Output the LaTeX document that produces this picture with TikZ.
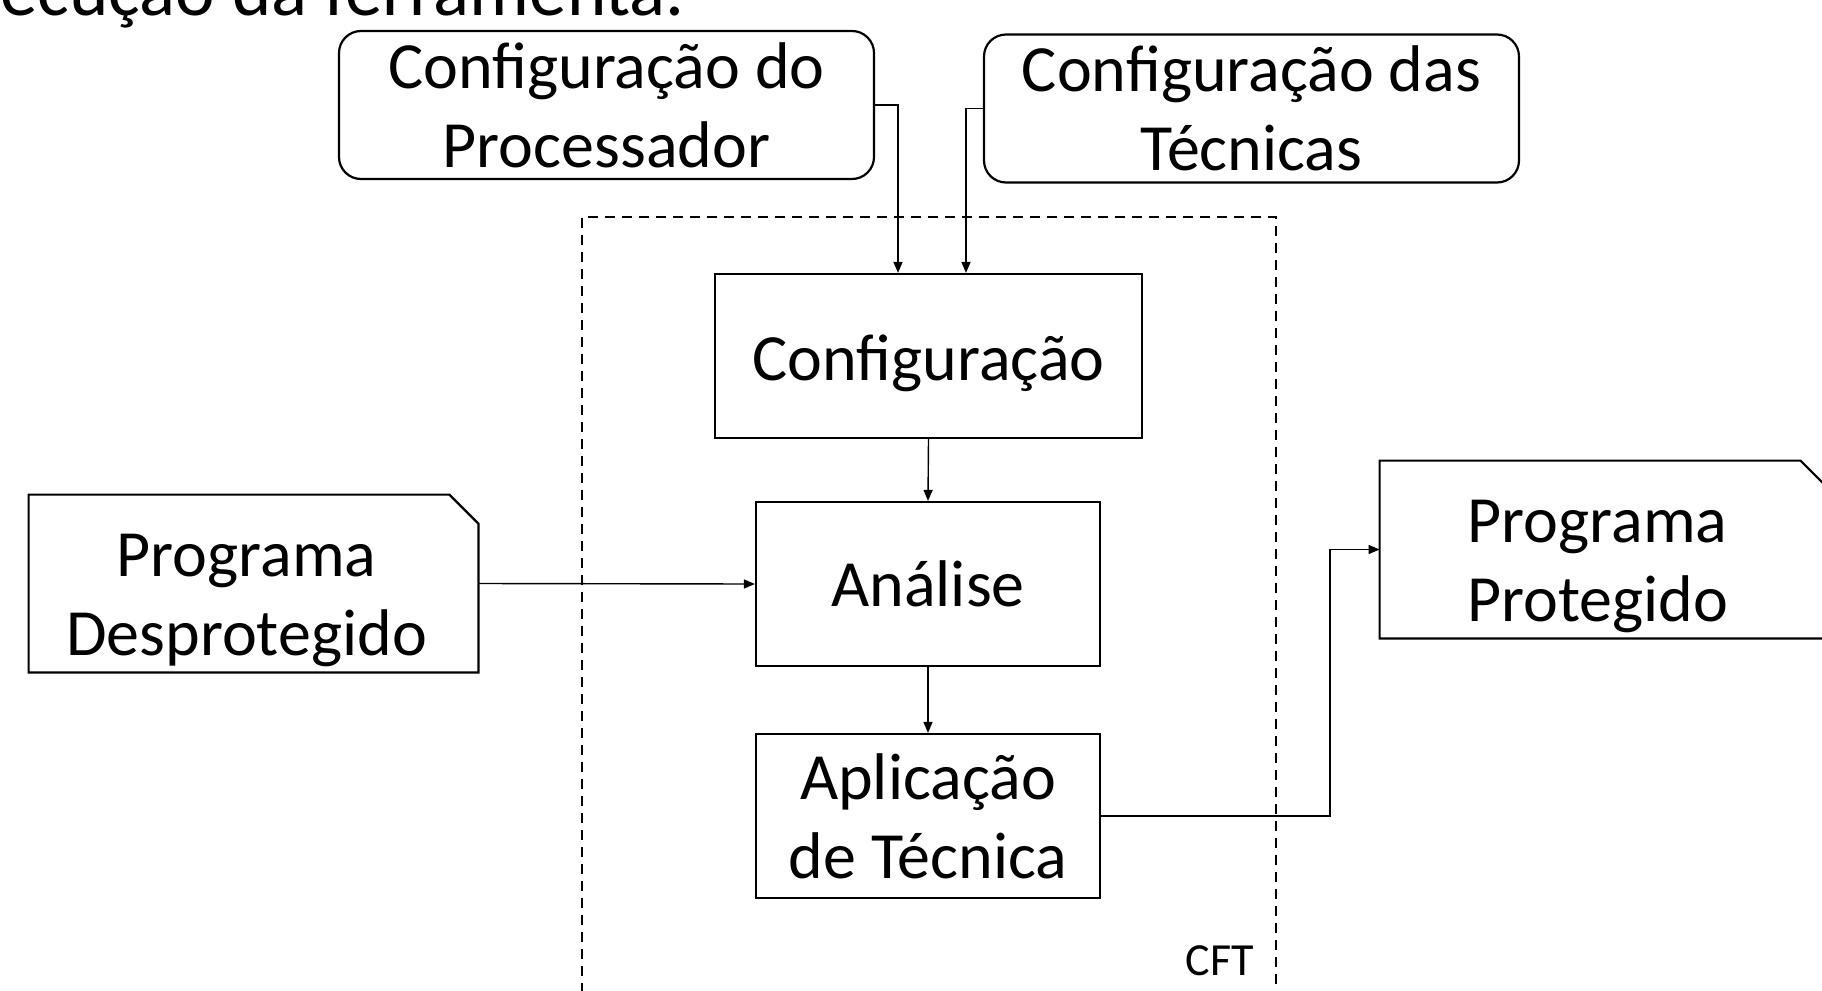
\documentclass[tikz,border=0pt]{standalone}
\usepackage{fontspec}
\setmainfont{Carlito}
\usetikzlibrary{arrows.meta}
\begin{document}
\begin{tikzpicture}[x=0.5pt,y=-0.5pt,
  bigfont/.style={font=\fontsize{33}{39.5}\selectfont},
  txt/.style={align=center, bigfont, inner sep=0pt},
  rbox/.style={draw, line width=1.1pt, rounded corners=11pt, align=center, bigfont, inner sep=0pt, minimum width=267.5pt, minimum height=74pt},
  pbox/.style={draw, line width=1.1pt, align=center, bigfont, inner sep=0pt, minimum height=82pt},
  docnode/.style={inner sep=0pt, minimum width=224.5pt, minimum height=88.5pt},
  docline/.style={line width=1.1pt, line join=miter},
  conn/.style={line width=0.7pt, -{Triangle[length=5.5pt,width=4.5pt]}},
  frame/.style={line width=1pt, dash pattern=on 5pt off 3.5pt}]
\clip (0,0) rectangle (1822,991);
\fill[white] (0,0) rectangle (1822,991);

% cut-off heading
\node[anchor=base west, inner sep=0pt, font=\fontsize{37.5}{45}\selectfont] (head) at (0,15) {ecução da ferramenta.};

% dashed CFT frame
\draw[frame] (582,1010) -- (582,217) -- (1276,217) -- (1276,1010);
\node[font=\fontsize{23}{27}\selectfont, inner sep=0pt] (cft) at (1220,961) {CFT};

% top config boxes
\node[rbox] (proc) at (606.5,105) {Configuração do\\Processador};
\node[rbox] (tec) at (1251.5,108.5) {Configuração das\\Técnicas};

% process boxes
\node[pbox, minimum width=213.5pt] (cfg) at (928.5,356) {};
\node[txt] (cfgt) at ([yshift=-3.75pt]cfg.center) {Configuração};
\node[pbox, minimum width=172pt] (an) at (928,584) {Análise};
\node[pbox, minimum width=172pt] (ap) at (928,816) {Aplicação\\de Técnica};

% document shapes
\node[docnode] (dp) at (253.5,583.5) {};
\draw[docline] (dp.north west) -- ([xshift=-14.5pt]dp.north east) -- ([yshift=-14.5pt]dp.north east) -- (dp.south east) -- (dp.south west) -- cycle;
\node[txt] (dpt) at ([shift={(-3.5pt,-8.5pt)}]dp.center) {Programa\\Desprotegido};
\node[docnode] (pp) at (1604.5,549.5) {};
\draw[docline] (pp.north west) -- ([xshift=-14.5pt]pp.north east) -- ([yshift=-14.5pt]pp.north east) -- (pp.south east) -- (pp.south west) -- cycle;
\node[txt] (ppt) at ([shift={(-3.5pt,-8.5pt)}]pp.center) {Programa\\Protegido};

% connectors
\draw[conn] (proc.east) -| ([xshift=-15.25pt]cfg.north);
\draw[conn] (tec.west) -| ([xshift=18.75pt]cfg.north);
\draw[conn] (cfg.south) -- (an.north);
\draw[conn] (dp.east) -- (an.west);
\draw[conn] (an.south) -- (ap.north);
\coordinate (bend) at (1330,816);
\draw[conn] (ap.east) -- (bend) |- (pp.west);
\end{tikzpicture}
\end{document}
